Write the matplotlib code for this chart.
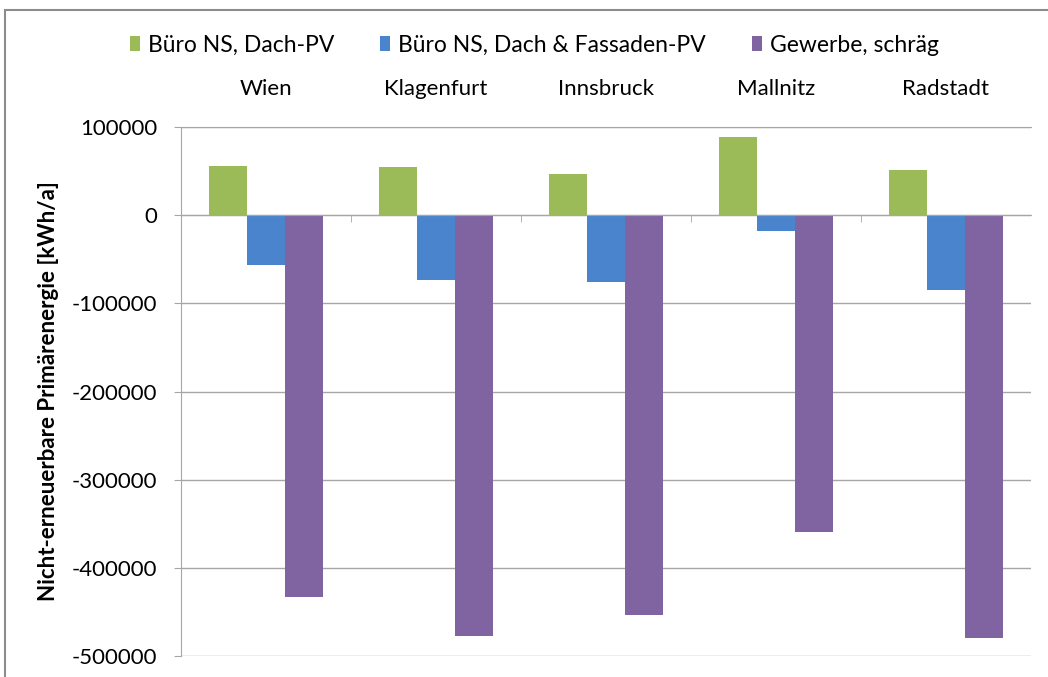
import numpy as np
import matplotlib.pyplot as plt
from matplotlib.patches import Rectangle
from matplotlib.ticker import FixedLocator

plt.rcParams['font.family'] = ['Lato', 'DejaVu Sans']

staedte = ['Wien', 'Klagenfurt', 'Innsbruck', 'Mallnitz', 'Radstadt']
serien = ['Büro NS, Dach-PV', 'Büro NS, Dach & Fassaden-PV', 'Gewerbe, schräg']
dach_pv = [56000, 55000, 47000, 89000, 51000]
dach_fassade_pv = [-57000, -73000, -76000, -18000, -85000]
gewerbe = [-433000, -477000, -453000, -359000, -480000]
farben = ['#9BBB59', '#4A84CC', '#8064A2']
y_ticks = [100000, 0, -100000, -200000, -300000, -400000, -500000]

fig = plt.figure(figsize=(10.48, 6.77), dpi=100)
ax = fig.add_axes([181 / 1048, 1 - 656 / 677, 850 / 1048, 529 / 677])

x = np.arange(len(staedte))
w = 0.223
for i, (werte, farbe, name) in enumerate(zip([dach_pv, dach_fassade_pv, gewerbe], farben, serien)):
    ax.bar(x + (i - 1) * w, werte, w, color=farbe, label=name, zorder=3)

ax.set_xlim(-0.5, len(staedte) - 0.5)
ax.set_ylim(-500000, 100000)
ax.set_yticks(y_ticks)
ax.set_yticklabels([str(v) for v in y_ticks], fontsize=16)
ax.yaxis.grid(True, color='#A6A6A6', linewidth=1, zorder=0)

# x-Achse bei 0, Beschriftungen oben
ax.spines['bottom'].set_position(('data', 0))
ax.spines['bottom'].set_color('#A6A6A6')
ax.spines['bottom'].set_zorder(4)
ax.spines['top'].set_color('#A6A6A6')
ax.spines['left'].set_color('#A6A6A6')
ax.spines['right'].set_visible(False)
ax.set_xticks(x)
ax.set_xticklabels(staedte, fontsize=16)
ax.xaxis.set_minor_locator(FixedLocator(np.arange(0.5, len(staedte) - 0.5, 1)))
ax.tick_params(axis='x', which='major', length=0, labelbottom=False, labeltop=True, pad=20)
ax.tick_params(axis='x', which='minor', length=5, color='#A6A6A6', direction='out')
ax.tick_params(axis='y', length=5, color='#A6A6A6', pad=12)

ax.set_ylabel('Nicht-erneuerbare Primärenergie [kWh/a]', fontsize=16, fontweight='bold', labelpad=9)

fig.legend(loc='center', bbox_to_anchor=(0.51, 1 - 45 / 677), ncol=3, frameon=False,
           fontsize=16.5, handlelength=0.45, handleheight=0.65, handletextpad=0.35, columnspacing=2.0)

# Rahmen des Diagramms
fig.patches.append(Rectangle((5 / 1048, -0.05), 1.1, 1 - 10 / 677 + 0.05, transform=fig.transFigure,
                             fill=False, edgecolor='#8C8C8C', linewidth=1.5))

fig.savefig('out.png', dpi=100)
